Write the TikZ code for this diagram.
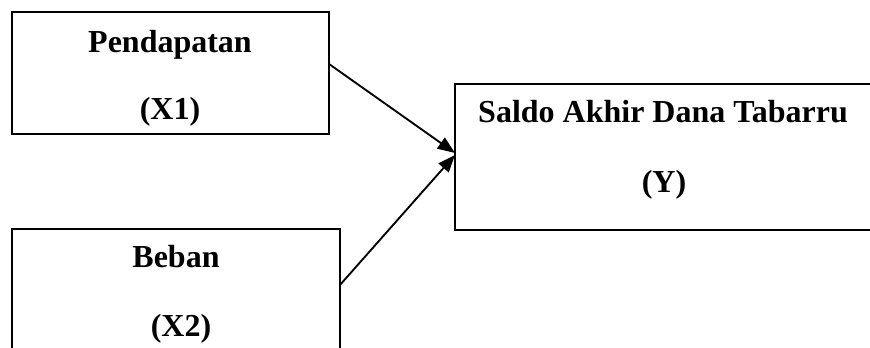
\documentclass[tikz,border=0pt]{standalone}
\usepackage{fontspec}
\setmainfont{Liberation Serif}
\usetikzlibrary{arrows.meta,calc}
\begin{document}
\begin{tikzpicture}[x=0.75pt,y=-0.75pt,
  box/.style={draw=black,line width=1.5pt,inner sep=0pt,outer sep=0pt},
  lbl/.style={anchor=base,inner sep=0pt,font=\fontsize{24}{28}\selectfont\bfseries},
  conn/.style={line width=1.4pt,-{Triangle[length=13pt,width=10pt]}}]
\useasboundingbox (0,0) rectangle (870,348);
\clip (0,0) rectangle (870,348);
\node[box,minimum width=237.75pt,minimum height=91.5pt] (b1) at (170.5,73) {};
\node[box,minimum width=246pt,minimum height=143.25pt] (b2) at (176,324.5) {};
\node[box,minimum width=333.75pt,minimum height=109.5pt] (by) at (677.5,157) {};
\node[lbl] (t1) at (170,53) {Pendapatan};
\node[lbl] (t1b) at (170,120) {(X1)};
\node[lbl] (t2) at (176,268) {Beban};
\node[lbl] (t2b) at (181,337) {(X2)};
\node[lbl] (ty) at (663,123) {Saldo Akhir Dana Tabarru};
\node[lbl] (tyb) at (664,193) {(Y)};
\coordinate (s1) at ($(b1.north east)!0.426!(b1.south east)$);
\coordinate (s2) at ($(b2.north east)!0.293!(b2.south east)$);
\coordinate (e1) at ($(by.west)+(0,-4)$);
\coordinate (e2) at ($(by.west)+(0,-2)$);
\draw[conn] (s1) -- (e1);
\draw[conn] (s2) -- (e2);
\end{tikzpicture}
\end{document}
